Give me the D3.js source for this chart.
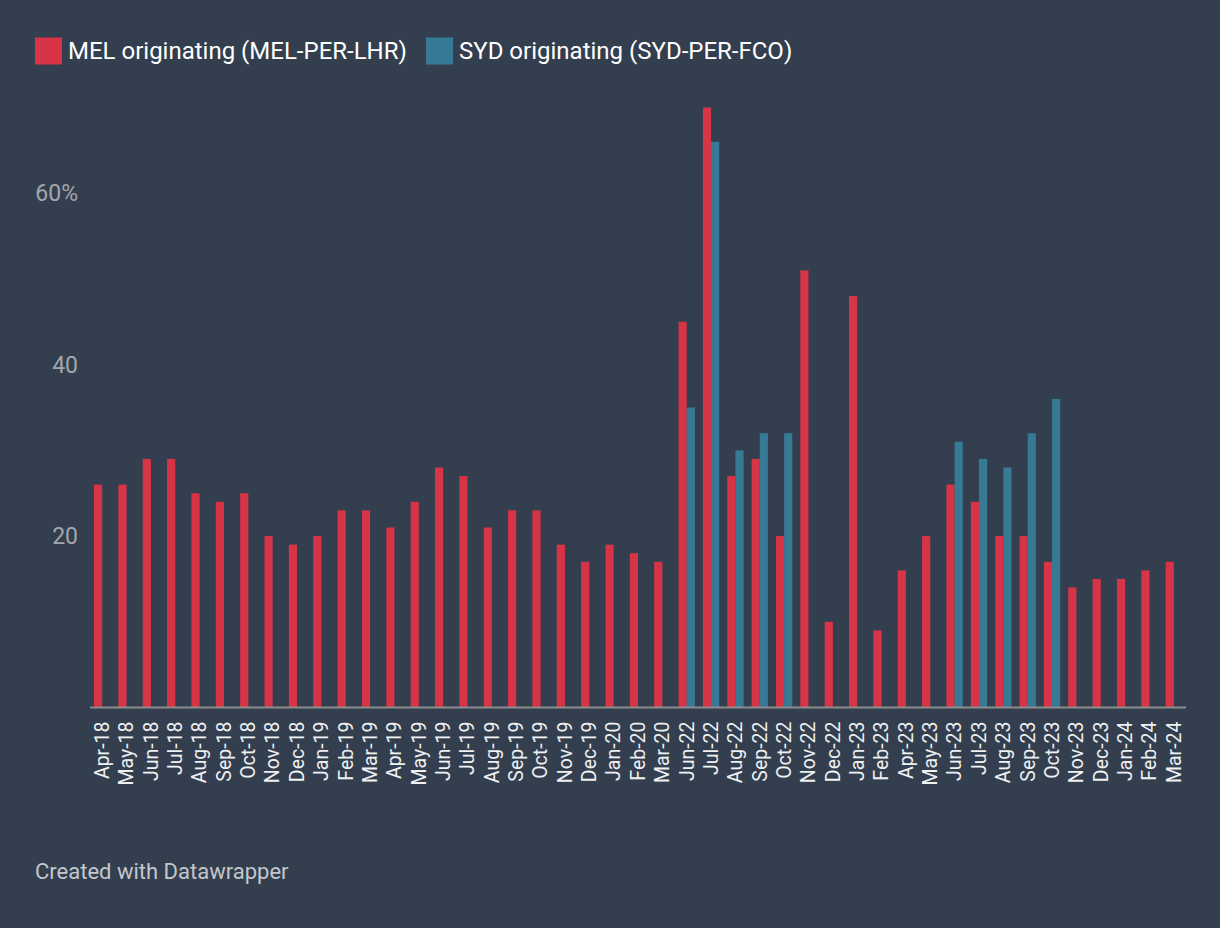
<!DOCTYPE html>
<html>
<head>
<meta charset="utf-8">
<script src="https://cdn.jsdelivr.net/npm/d3@7"></script>
<style>
  html, body { margin: 0; padding: 0; background: #333e4f; }
  svg { display: block; font-family: Roboto, "Noto Sans", sans-serif; }
</style>
</head>
<body>
<svg id="chart" width="1220" height="928"></svg>
<script>
const categories = ["Apr-18","May-18","Jun-18","Jul-18","Aug-18","Sep-18","Oct-18","Nov-18","Dec-18",
  "Jan-19","Feb-19","Mar-19","Apr-19","May-19","Jun-19","Jul-19","Aug-19","Sep-19","Oct-19","Nov-19","Dec-19",
  "Jan-20","Feb-20","Mar-20",
  "Jun-22","Jul-22","Aug-22","Sep-22","Oct-22","Nov-22","Dec-22",
  "Jan-23","Feb-23","Apr-23","May-23","Jun-23","Jul-23","Aug-23","Sep-23","Oct-23","Nov-23","Dec-23",
  "Jan-24","Feb-24","Mar-24"];
const melValues = [26,26,29,29,25,24,25,20,19,
  20,23,23,21,24,28,27,21,23,23,19,17,
  19,18,17,
  45,70,27,29,20,51,10,
  48,9,16,20,26,24,20,20,17,14,15,
  15,16,17];
const sydValues = [null,null,null,null,null,null,null,null,null,
  null,null,null,null,null,null,null,null,null,null,null,null,
  null,null,null,
  35,66,30,32,32,null,null,
  null,null,null,null,31,29,28,32,36,null,null,
  null,null,null];
const seriesNames = ["MEL originating (MEL-PER-LHR)", "SYD originating (SYD-PER-FCO)"];
const seriesColors = ["#d73447", "#377a96"];
const yTicks = [20, 40, 60];

const svg = d3.select("#chart");
const left = 90, right = 1186, base = 707.5;

const x = d3.scaleBand().domain(categories).range([left, right]).paddingInner(0.33).paddingOuter(0.165);
const xs = d3.scaleBand().domain([0, 1]).range([0, x.bandwidth()]);
const y = d3.scaleLinear().domain([0, 70]).range([base, 107.5]);

const rows = categories.map((c, i) => ({cat: c, vals: [melValues[i], sydValues[i]]}));

const g = svg.append("g");
rows.forEach(r => {
  r.vals.forEach((v, k) => {
    if (v == null) return;
    g.append("rect")
      .attr("x", x(r.cat) + xs(k))
      .attr("y", y(v))
      .attr("width", xs.bandwidth())
      .attr("height", base - y(v))
      .attr("fill", seriesColors[k]);
  });
});

// x axis
const xAxis = d3.axisBottom(x).tickSize(0).tickSizeOuter(0);
const xg = svg.append("g").attr("transform", `translate(0,${base})`).call(xAxis);
xg.select(".domain").attr("stroke", "#8c8c8c").attr("stroke-width", 2)
  .attr("d", `M${left},0H${right}`);
xg.selectAll(".tick text")
  .attr("transform", "rotate(-90)")
  .attr("x", -14).attr("y", 0).attr("dy", "0.35em")
  .attr("text-anchor", "end")
  .attr("fill", "#eef0f2")
  .attr("font-size", 19.5)
  .attr("font-family", "Roboto");

// y axis labels
const yAxis = d3.axisLeft(y).tickValues(yTicks).tickSize(0).tickFormat(d => d === 60 ? "60%" : d);
const yg = svg.append("g").attr("transform", `translate(78,0)`).call(yAxis);
yg.select(".domain").remove();
yg.selectAll(".tick text").attr("x", 0).attr("fill", "#a3a7ad").attr("font-size", 23)
  .attr("font-family", "Roboto");

// legend
const legendX = [35, 426];
seriesNames.forEach((n, k) => {
  svg.append("rect").attr("x", legendX[k]).attr("y", 37.5).attr("width", 27).attr("height", 27)
    .attr("fill", seriesColors[k]);
  svg.append("text").attr("x", legendX[k] + 33).attr("y", 51).attr("dy", "0.35em")
    .attr("fill", "#ffffff").attr("font-size", 24).text(n);
});

// footer
svg.append("text").attr("x", 35).attr("y", 871).attr("dy", "0.35em")
  .attr("fill", "#c4c7cc").attr("font-size", 22).text("Created with Datawrapper");
</script>
</body>
</html>
